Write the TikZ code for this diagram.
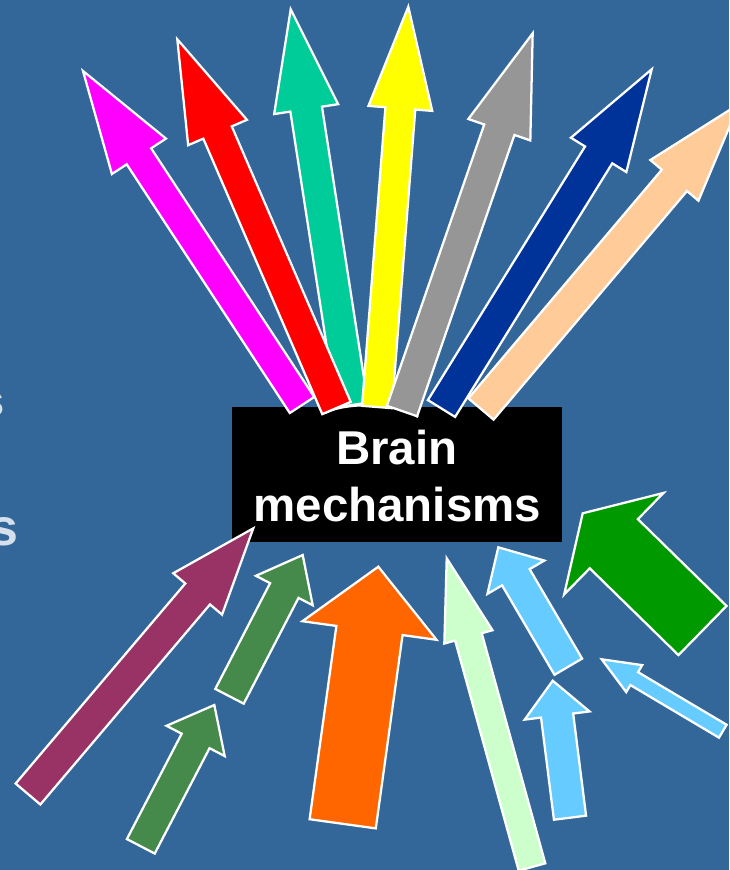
\documentclass[tikz,border=0pt]{standalone}
\usepackage{fontspec}
\setmainfont{Liberation Sans}
\definecolor{bg}{HTML}{336699}
\definecolor{cMagenta}{HTML}{FF00FF}
\definecolor{cRed}{HTML}{FF0000}
\definecolor{cTeal}{HTML}{00CC99}
\definecolor{cYellow}{HTML}{FFFF00}
\definecolor{cGray}{HTML}{969696}
\definecolor{cNavy}{HTML}{003399}
\definecolor{cPeach}{HTML}{FFCC99}
\definecolor{cMaroon}{HTML}{993366}
\definecolor{cGreenA}{HTML}{468A4B}
\definecolor{cOrange}{HTML}{FF6600}
\definecolor{cPale}{HTML}{CCFFCC}
\definecolor{cLight}{HTML}{66CCFF}
\definecolor{cGreen}{HTML}{009900}
\definecolor{cFaint}{HTML}{D5E0EC}
\tikzset{
  blockarr/.style={draw=white, line width=1.7pt, line join=miter},
  titletext/.style={text=white, font=\fontsize{35.6}{42}\selectfont\bfseries, inner sep=0pt},
  edgetext/.style={text=cFaint, font=\bfseries, inner sep=0pt}
}
% colour, tail x, tail y, tip x, tip y, shaft half width, head half width, head length
\newcommand\blkarrow[8]{%
  \pgfmathsetmacro\bdx{#4-#2}%
  \pgfmathsetmacro\bdy{#5-#3}%
  \pgfmathsetmacro\blen{veclen(\bdx,\bdy)}%
  \pgfmathsetmacro\bang{atan2(-\bdy,\bdx)}%
  \pgfmathsetmacro\bhb{\blen-#8}%
  \filldraw[blockarr, fill=#1, shift={(#2,#3)}, rotate=\bang]
    (0,#6) -- (\bhb,#6) -- (\bhb,#7) -- (\blen,0) -- (\bhb,-#7) -- (\bhb,-#6) -- (0,-#6) -- cycle;
}
\begin{document}
\begin{tikzpicture}[x=0.75pt, y=-0.75pt]
\useasboundingbox (0,0) rectangle (729,870);
\clip (0,0) rectangle (729,870);
\fill[bg] (0,0) rectangle (729,870);

% cut-off letters at the left edge
\node[edgetext, font=\fontsize{34}{40}\selectfont\bfseries, anchor=base east] (s1) at (4.5,416) {s};
\node[edgetext, font=\fontsize{39}{46}\selectfont\bfseries, anchor=base east] (s2) at (18.5,545) {s};

% central box
\node[fill=black, minimum width=330*0.75pt, minimum height=135*0.75pt, inner sep=0pt, anchor=north west] (box) at (232,407) {};
\fill[black] (325,413) .. controls (345,402) and (400,402) .. (418,417) -- (418,420) -- (325,420) -- cycle;
\draw[white, line width=1.7pt] (325,413) .. controls (345,402) and (400,402) .. (418,417);

% outgoing arrows (top)
\blkarrow{cMagenta}{302}{405}{83}{71}{14.6}{32.3}{102}
\blkarrow{cTeal}{352}{405}{290.7}{9.3}{16}{32.4}{101}
\blkarrow{cRed}{336.5}{408}{177.3}{39.3}{15.5}{32}{101.5}
\blkarrow{cYellow}{377}{407}{408.3}{6.7}{15}{32}{102}
\blkarrow{cGray}{402}{411}{532.7}{33.3}{16}{32.8}{102}
\blkarrow{cNavy}{441.5}{408.5}{651.7}{69.3}{16}{32.6}{100.7}
\blkarrow{cPeach}{481}{409}{739}{104}{16.5}{31.5}{100}

% text in the box
\node[titletext, anchor=base] (t1) at (396.7,464) {Brain};
\node[titletext, anchor=base] (t2) at (397.3,521) {mechanisms};

% incoming arrows (bottom)
\blkarrow{cMaroon}{28}{794}{253.3}{528.3}{16.2}{32}{86}
\blkarrow{cGreenA}{229.5}{696.3}{302.7}{555}{16}{32}{40}
\blkarrow{cGreenA}{140.8}{846.3}{214.3}{705}{15.7}{32.8}{40.5}
\blkarrow{cOrange}{342.7}{823.8}{378.3}{566.7}{33.4}{67.7}{64.4}
\blkarrow{cPale}{532}{867}{446.7}{558.3}{13.8}{25}{81.5}
\blkarrow{cLight}{568.3}{666.7}{498.3}{547.3}{16}{33}{34.7}
\blkarrow{cLight}{570}{817.7}{552.7}{680.7}{16.2}{32.7}{35.1}
\blkarrow{cLight}{722.8}{731.2}{601.7}{659.3}{7.5}{15.7}{37.8}
\blkarrow{cGreen}{702.5}{630.5}{582.7}{513.3}{34.4}{71}{43.5}
\end{tikzpicture}
\end{document}
